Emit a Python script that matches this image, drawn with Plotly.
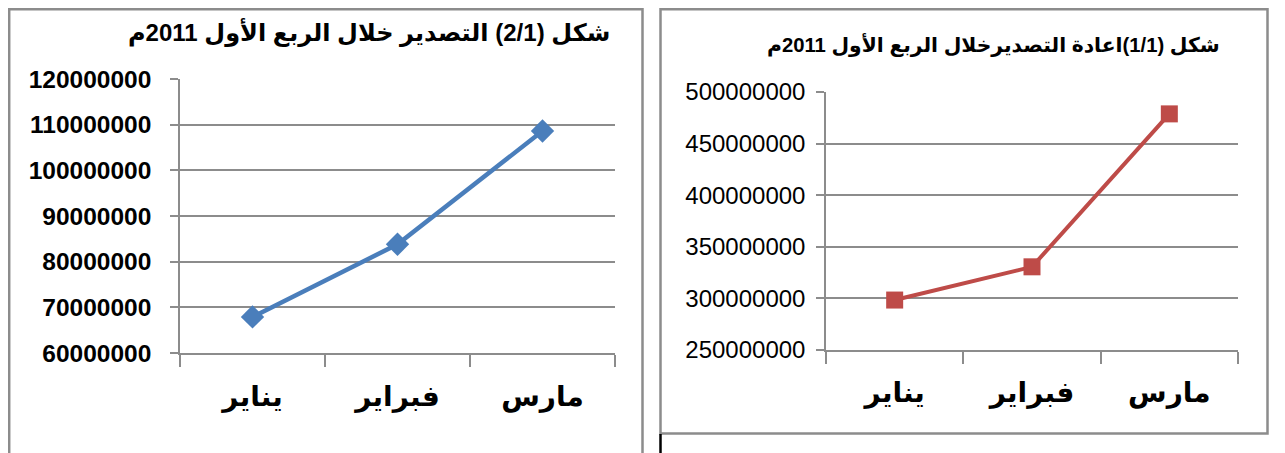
import plotly.graph_objects as go

months = ["يناير", "فبراير", "مارس"]
export_values = [67900000, 83800000, 108600000]
reexport_values = [298400000, 330600000, 478800000]
left_title = "شكل (2/1) التصدير خلال الربع الأول 2011م"
right_title = "شكل (1/1)اعادة التصديرخلال الربع الأول 2011م"

W, H = 1285, 453
OFF = 8  # page body margin offset


def px(x):
    return (x - OFF) / W


def py(y):
    return 1 - (y - OFF) / H


fig = go.Figure()
fig.add_trace(go.Scatter(
    x=months, y=export_values, mode="lines+markers",
    line=dict(color="#4A7EBB", width=4.5),
    marker=dict(symbol="diamond", size=18, color="#4A7EBB"),
    xaxis="x", yaxis="y", showlegend=False, cliponaxis=False))
fig.add_trace(go.Scatter(
    x=months, y=reexport_values, mode="lines+markers",
    line=dict(color="#BE4B48", width=4),
    marker=dict(symbol="square", size=17, color="#BE4B48"),
    xaxis="x2", yaxis="y2", showlegend=False, cliponaxis=False))

grid = "#8C8C8C"
font_main = "Liberation Sans, Arial, DejaVu Sans, sans-serif"
common_x = dict(type="category", range=[-0.5, 2.5], showgrid=False,
                showline=True, linecolor=grid, linewidth=1.5,
                ticks="outside", ticklen=12, tickcolor=grid, tickwidth=1.5,
                tickson="boundaries", fixedrange=True, automargin=False)
common_y = dict(showgrid=True, gridcolor=grid, gridwidth=1.5,
                showline=True, linecolor=grid, linewidth=1.5,
                ticks="outside", ticklen=8, tickcolor=grid, tickwidth=1.5,
                tickformat="d", zeroline=False, fixedrange=True, automargin=False)

fig.update_layout(
    template="none",
    width=W, height=H, margin=dict(l=0, r=0, t=0, b=0, pad=0),
    paper_bgcolor="white", plot_bgcolor="white",
    xaxis=dict(common_x, domain=[px(180), px(615)], anchor="y",
               ticklabelstandoff=18,
               tickfont=dict(family=font_main, size=28, color="black", weight="bold")),
    yaxis=dict(common_y, domain=[py(353), py(79)], anchor="x",
               range=[60000000, 120000000], dtick=10000000,
               ticklabelstandoff=14,
               tickfont=dict(family=font_main, size=24.5, color="black", weight="bold")),
    xaxis2=dict(common_x, domain=[px(826), px(1238)], anchor="y2",
                ticklabelstandoff=17,
                tickfont=dict(family=font_main, size=28, color="black", weight="bold")),
    yaxis2=dict(common_y, domain=[py(350), py(92)], anchor="x2",
                range=[250000000, 500000000], dtick=50000000,
                ticklabelstandoff=6,
                tickfont=dict(family=font_main, size=24, color="black")),
)

fig.add_annotation(text=left_title, x=px(612), y=py(32), xref="paper", yref="paper",
                   xanchor="right", yanchor="middle", showarrow=False,
                   font=dict(family=font_main, size=24, color="black", weight="bold"))
fig.add_annotation(text=right_title, x=px(1222), y=py(45), xref="paper", yref="paper",
                   xanchor="right", yanchor="middle", showarrow=False,
                   font=dict(family=font_main, size=20.3, color="black", weight="bold"))

shapes = [
    # chart borders
    dict(type="rect", x0=px(9.2), x1=px(642.5), y0=py(470), y1=py(9.2),
         line=dict(color="#8C8C8C", width=2.5)),
    dict(type="rect", x0=px(660.5), x1=px(1267.5), y0=py(433.5), y1=py(9.2),
         line=dict(color="#8C8C8C", width=2.5)),
    # table line below right chart
    dict(type="line", x0=px(660.5), x1=px(660.5), y0=py(434), y1=py(470),
         line=dict(color="black", width=2.5)),
]
for s in shapes:
    s.update(xref="paper", yref="paper", layer="below")
fig.update_layout(shapes=shapes)

fig.write_html("out.html")
